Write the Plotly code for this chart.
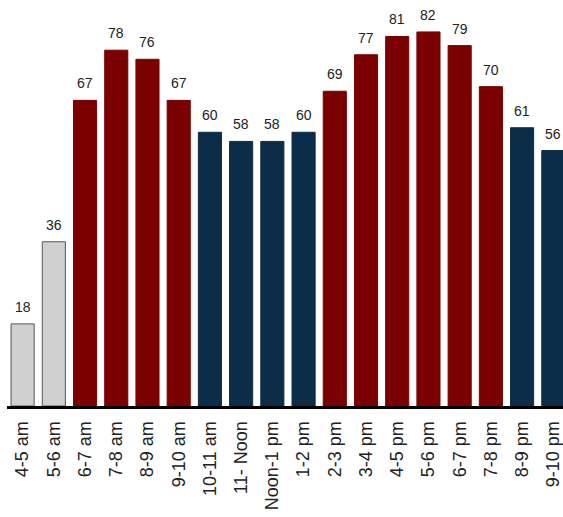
import plotly.graph_objects as go

categories = ["4-5 am", "5-6 am", "6-7 am", "7-8 am", "8-9 am", "9-10 am", "10-11 am",
              "11- Noon", "Noon-1 pm", "1-2 pm", "2-3 pm", "3-4 pm", "4-5 pm", "5-6 pm",
              "6-7 pm", "7-8 pm", "8-9 pm", "9-10 pm"]
values = [18, 36, 67, 78, 76, 67, 60, 58, 58, 60, 69, 77, 81, 82, 79, 70, 61, 56]
groups = ["low", "low", "peak", "peak", "peak", "peak", "mid", "mid", "mid", "mid",
          "peak", "peak", "peak", "peak", "peak", "peak", "mid", "mid"]

color_map = {"low": "#d0d0d0", "peak": "#7b0000", "mid": "#0c2d48"}
line_map = {"low": "#555555", "peak": "#7b0000", "mid": "#0c2d48"}

FONT = "Liberation Sans, Arial, sans-serif"

fig = go.Figure(go.Bar(
    x=categories,
    y=values,
    marker=dict(color=[color_map[g] for g in groups],
                line=dict(color=[line_map[g] for g in groups], width=1)),
    hoverinfo="x+y",
))

for c, v in zip(categories, values):
    fig.add_annotation(x=c, y=v, text=str(v), showarrow=False, yanchor="bottom",
                       yshift=7, font=dict(family=FONT, size=14, color="#222222"))

fig.update_layout(
    width=563, height=517,
    margin=dict(l=7, r=0, t=0, b=111),
    paper_bgcolor="white", plot_bgcolor="white",
    bargap=0.26,
    showlegend=False,
    font=dict(family=FONT, color="#222222"),
    xaxis=dict(type="category", range=[-0.5, 17.31], showline=True, linecolor="black",
               linewidth=3, ticks="outside", ticklen=5, tickcolor="rgba(0,0,0,0)",
               tickangle=-90, tickfont=dict(family=FONT, size=18, color="#222222"),
               showgrid=False, zeroline=False),
    yaxis=dict(range=[0, 89.0], visible=False, showgrid=False, zeroline=False),
)

fig.write_html("out.html")
